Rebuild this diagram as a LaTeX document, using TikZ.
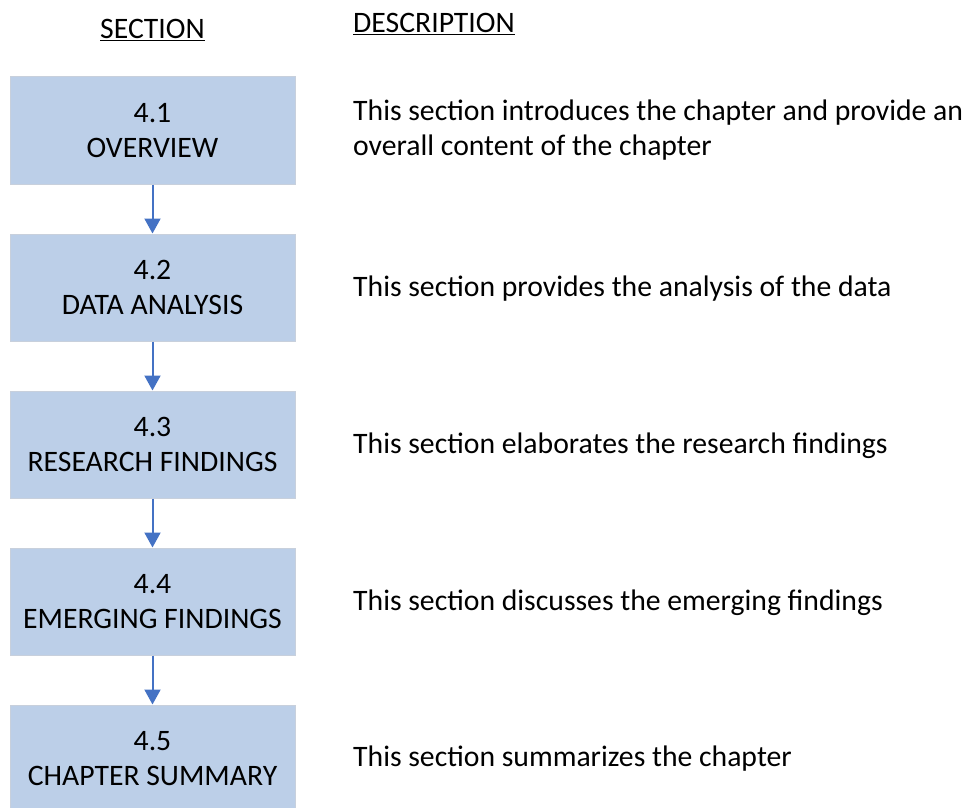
\documentclass[tikz,border=0pt]{standalone}
\usepackage{fontspec}
\setmainfont{Carlito}
\usetikzlibrary{arrows.meta}
\definecolor{boxfill}{RGB}{188,207,232}
\definecolor{boxline}{RGB}{200,208,220}
\definecolor{flowblue}{RGB}{68,114,196}
\begin{document}
\begin{tikzpicture}[x=1pt,y=-1pt,
  secbox/.style={draw=boxline,line width=1pt,fill=boxfill,minimum width=285pt,
    minimum height=107pt,inner sep=0pt,align=center,
    font=\fontsize{29.7}{35}\selectfont},
  desc/.style={anchor=west,inner sep=0pt,align=left,
    font=\fontsize{29.7}{35}\selectfont},
  head/.style={inner sep=0pt,font=\fontsize{29.7}{35}\selectfont},
  flow/.style={draw=flowblue,line width=2pt,-{Triangle[width=16pt,length=15pt]}}]
\useasboundingbox (0,0) rectangle (967,808);

% column headings
\node[head] (hsec) at (152.5,30) {\underline{SECTION}};
\node[head,anchor=west] (hdesc) at (353,24) {\underline{DESCRIPTION}};

% section boxes
\node[secbox] (s1) at (152.5,130.5) {4.1\\OVERVIEW};
\node[secbox] (s2) at (152.5,287.5) {4.2\\DATA ANALYSIS};
\node[secbox] (s3) at (152.5,444.5) {4.3\\RESEARCH FINDINGS};
\node[secbox] (s4) at (152.5,601.5) {4.4\\EMERGING FINDINGS};
\node[secbox] (s5) at (152.5,758.5) {4.5\\CHAPTER SUMMARY};

% descriptions
\node[desc] (d1) at (353,130) {This section introduces the chapter and provide an\\overall content of the chapter};
\node[desc] (d2) at (353,289) {This section provides the analysis of the data};
\node[desc] (d3) at (353,446) {This section elaborates the research findings};
\node[desc] (d4) at (353,603) {This section discusses the emerging findings};
\node[desc] (d5) at (353,759) {This section summarizes the chapter};

% flow arrows
\draw[flow] (s1) -- (s2);
\draw[flow] (s2) -- (s3);
\draw[flow] (s3) -- (s4);
\draw[flow] (s4) -- (s5);
\end{tikzpicture}
\end{document}
